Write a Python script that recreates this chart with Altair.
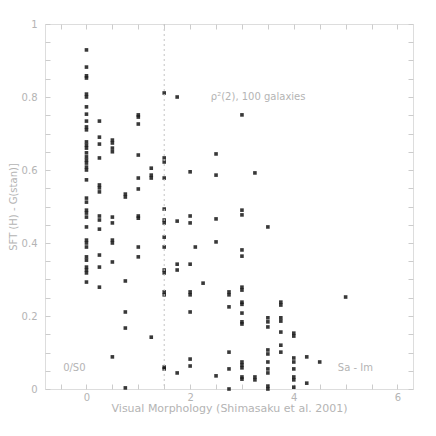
import altair as alt
import pandas as pd

# Visual morphology classes (x) and the y-values of the galaxies in each class
col_x = [0.0, 0.25, 0.5, 0.75, 1.0, 1.25, 1.5, 1.75, 2.0, 2.1, 2.25, 2.5,
         2.75, 3.0, 3.25, 3.5, 3.75, 4.0, 4.25, 4.5, 5.0]

y_0 = [0.929, 0.882, 0.858, 0.852, 0.808, 0.800, 0.773, 0.753, 0.734, 0.718,
       0.710, 0.677, 0.668, 0.660, 0.647, 0.636, 0.627, 0.619, 0.608, 0.600,
       0.573, 0.523, 0.512, 0.490, 0.482, 0.471, 0.444, 0.408, 0.400, 0.389,
       0.362, 0.353, 0.334, 0.326, 0.318, 0.293]
y_025 = [0.734, 0.690, 0.671, 0.633, 0.559, 0.551, 0.540, 0.474, 0.463,
         0.438, 0.367, 0.334, 0.279]
y_05 = [0.682, 0.674, 0.660, 0.650, 0.471, 0.455, 0.408, 0.400, 0.348, 0.088]
y_075 = [0.534, 0.526, 0.296, 0.211, 0.167, 0.003]
y_1 = [0.751, 0.745, 0.726, 0.641, 0.578, 0.548, 0.474, 0.468, 0.389, 0.362]
y_125 = [0.605, 0.586, 0.578, 0.142]
y_15 = [0.811, 0.633, 0.622, 0.578, 0.493, 0.463, 0.455, 0.416, 0.389,
        0.326, 0.318, 0.266, 0.258, 0.060, 0.055]
y_175 = [0.800, 0.460, 0.342, 0.326, 0.044]
y_2 = [0.595, 0.474, 0.455, 0.342, 0.266, 0.258, 0.211, 0.082, 0.063]
y_21 = [0.389]
y_225 = [0.290]
y_25 = [0.644, 0.586, 0.466, 0.403, 0.036]
y_275 = [0.266, 0.258, 0.225, 0.101, 0.055, 0.0]
y_3 = [0.751, 0.490, 0.477, 0.381, 0.364, 0.279, 0.271, 0.238, 0.232, 0.208,
       0.184, 0.178, 0.074, 0.066, 0.058, 0.033, 0.027]
y_325 = [0.592, 0.033, 0.025]
y_35 = [0.444, 0.195, 0.184, 0.170, 0.107, 0.096, 0.074, 0.055, 0.044,
        0.008, 0.0]
y_375 = [0.238, 0.230, 0.195, 0.186, 0.156, 0.120, 0.101]
y_4 = [0.153, 0.145, 0.085, 0.074, 0.055, 0.033, 0.025, 0.005]
y_425 = [0.088, 0.016]
y_45 = [0.074]
y_5 = [0.252]

columns = [y_0, y_025, y_05, y_075, y_1, y_125, y_15, y_175, y_2, y_21, y_225,
           y_25, y_275, y_3, y_325, y_35, y_375, y_4, y_425, y_45, y_5]

x_ticks = [-0.5 + 0.5 * i for i in range(14)]
y_ticks = [round(0.05 * i, 2) for i in range(21)]

divider_x = [1.5]
notes = pd.DataFrame({
    "x": [2.4, -0.45, 4.85],
    "y": [0.80, 0.058, 0.058],
    "t": ["\u03c1\u00b2(2), 100 galaxies", "0/S0", "Sa - Im"],
})

rows = []
for cx, ys in zip(col_x, columns):
    for v in ys:
        rows.append({"x": cx, "y": v})
df = pd.DataFrame(rows)

GRAY = "#b4b4b4"
TICK = "#cccccc"
xscale = alt.Scale(domain=[-0.8, 6.3], nice=False, zero=False)
yscale = alt.Scale(domain=[0, 1], nice=False, zero=False)

x_main = alt.Axis(values=x_ticks,
                  labelExpr="datum.value % 2 == 0 ? format(datum.value, 'd') : ''",
                  labelOverlap=False, grid=False, domain=False, offset=-5,
                  tickSize=5, tickColor=TICK, labelColor=GRAY, labelFontSize=10,
                  labelPadding=3, title="Visual Morphology (Shimasaku et al. 2001)",
                  titleColor=GRAY, titleFontSize=11, titleFontWeight="normal",
                  titlePadding=0)
y_main = alt.Axis(values=y_ticks,
                  labelExpr="round(datum.value*100) % 20 == 0 ? format(datum.value, '~g') : ''",
                  labelOverlap=False, grid=False, domain=False, offset=-5,
                  tickSize=5, tickColor=TICK, labelColor=GRAY, labelFontSize=10,
                  labelPadding=8, title="SFT (H) - G(stan)]",
                  titleColor=GRAY, titleFontSize=10, titleFontWeight="normal",
                  titlePadding=3)
x_top = alt.Axis(orient="top", values=x_ticks, labels=False, grid=False,
                 domain=False, offset=-5, tickSize=5, tickColor=TICK, title=None)
y_right = alt.Axis(orient="right", values=y_ticks, labels=False, grid=False,
                   domain=False, offset=-5, tickSize=5, tickColor=TICK, title=None)

points = alt.Chart(df).mark_square(size=13, color="#151515", opacity=0.85).encode(
    x=alt.X("x:Q", scale=xscale, axis=x_main),
    y=alt.Y("y:Q", scale=yscale, axis=y_main),
)

frame_axes = alt.Chart(df).mark_point(opacity=0).encode(
    x=alt.X("x:Q", scale=xscale, axis=x_top),
    y=alt.Y("y:Q", scale=yscale, axis=y_right),
)

divider = alt.Chart(pd.DataFrame({"x": divider_x})).mark_rule(
    color="#c4c4c4", strokeDash=[2, 3], strokeWidth=1
).encode(x=alt.X("x:Q", scale=xscale, axis=None))

texts = alt.Chart(notes).mark_text(align="left", baseline="middle", color=GRAY,
                                   fontSize=10).encode(
    x=alt.X("x:Q", scale=xscale, axis=None),
    y=alt.Y("y:Q", scale=yscale, axis=None),
    text="t:N",
)

chart = alt.layer(points, frame_axes, divider, texts).resolve_axis(
    x="independent", y="independent"
).properties(
    width=368, height=365,
    autosize=alt.AutoSizeParams(type="none"),
    padding={"left": 37, "top": 16, "right": 15, "bottom": 38},
).configure_view(stroke="#e2e2e2", strokeWidth=2).configure(
    font="DejaVu Sans"
)

chart.save("out.html", embed_options={"renderer": "svg", "actions": False})
